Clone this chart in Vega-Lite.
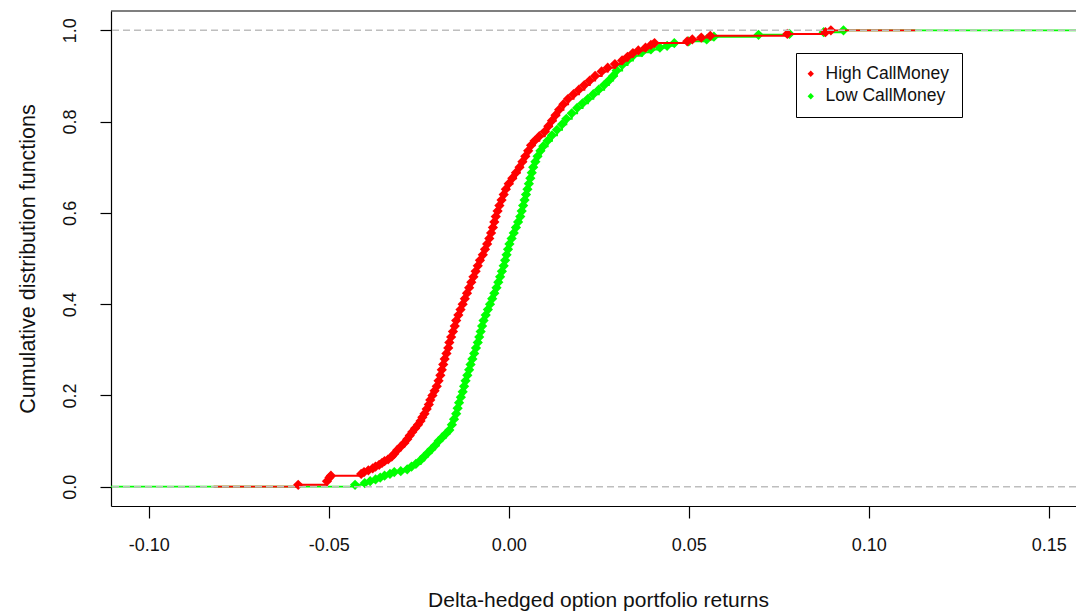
{
  "$schema": "https://vega.github.io/schema/vega-lite/v6.json",
  "width": 965,
  "height": 495,
  "autosize": {"type": "none"},
  "padding": {"left": 111, "top": 11, "right": 0, "bottom": 106},
  "background": "#ffffff",
  "view": {"stroke": null},
  "config": {
    "font": "Liberation Sans",
    "axis": {"grid": false, "domainColor": "#000000", "tickColor": "#000000", "labelColor": "#111111", "titleColor": "#111111", "titleFontWeight": "normal", "labelFont": "Liberation Sans", "titleFont": "Liberation Sans"}
  },
  "datasets": {
    "cdf": [
      {"series": "High CallMoney", "ret": -0.0585, "cdf": 0.004},
      {"series": "High CallMoney", "ret": -0.0505, "cdf": 0.012},
      {"series": "High CallMoney", "ret": -0.0498, "cdf": 0.020},
      {"series": "High CallMoney", "ret": -0.0494, "cdf": 0.024},
      {"series": "High CallMoney", "ret": -0.0410, "cdf": 0.028},
      {"series": "High CallMoney", "ret": -0.0402, "cdf": 0.032},
      {"series": "High CallMoney", "ret": -0.0390, "cdf": 0.036},
      {"series": "High CallMoney", "ret": -0.0378, "cdf": 0.040},
      {"series": "High CallMoney", "ret": -0.0370, "cdf": 0.044},
      {"series": "High CallMoney", "ret": -0.0360, "cdf": 0.048},
      {"series": "High CallMoney", "ret": -0.0352, "cdf": 0.052},
      {"series": "High CallMoney", "ret": -0.0345, "cdf": 0.056},
      {"series": "High CallMoney", "ret": -0.0335, "cdf": 0.060},
      {"series": "High CallMoney", "ret": -0.0325, "cdf": 0.066},
      {"series": "High CallMoney", "ret": -0.0318, "cdf": 0.072},
      {"series": "High CallMoney", "ret": -0.0310, "cdf": 0.080},
      {"series": "High CallMoney", "ret": -0.0300, "cdf": 0.088},
      {"series": "High CallMoney", "ret": -0.0290, "cdf": 0.096},
      {"series": "High CallMoney", "ret": -0.0282, "cdf": 0.104},
      {"series": "High CallMoney", "ret": -0.0275, "cdf": 0.112},
      {"series": "High CallMoney", "ret": -0.0268, "cdf": 0.120},
      {"series": "High CallMoney", "ret": -0.0260, "cdf": 0.128},
      {"series": "High CallMoney", "ret": -0.0252, "cdf": 0.136},
      {"series": "High CallMoney", "ret": -0.0245, "cdf": 0.144},
      {"series": "High CallMoney", "ret": -0.0240, "cdf": 0.152},
      {"series": "High CallMoney", "ret": -0.0234, "cdf": 0.160},
      {"series": "High CallMoney", "ret": -0.0228, "cdf": 0.170},
      {"series": "High CallMoney", "ret": -0.0222, "cdf": 0.180},
      {"series": "High CallMoney", "ret": -0.0218, "cdf": 0.190},
      {"series": "High CallMoney", "ret": -0.0212, "cdf": 0.200},
      {"series": "High CallMoney", "ret": -0.0206, "cdf": 0.210},
      {"series": "High CallMoney", "ret": -0.0200, "cdf": 0.220},
      {"series": "High CallMoney", "ret": -0.0195, "cdf": 0.232},
      {"series": "High CallMoney", "ret": -0.0190, "cdf": 0.244},
      {"series": "High CallMoney", "ret": -0.0186, "cdf": 0.256},
      {"series": "High CallMoney", "ret": -0.0182, "cdf": 0.268},
      {"series": "High CallMoney", "ret": -0.0178, "cdf": 0.280},
      {"series": "High CallMoney", "ret": -0.0173, "cdf": 0.292},
      {"series": "High CallMoney", "ret": -0.0168, "cdf": 0.304},
      {"series": "High CallMoney", "ret": -0.0165, "cdf": 0.316},
      {"series": "High CallMoney", "ret": -0.0160, "cdf": 0.328},
      {"series": "High CallMoney", "ret": -0.0155, "cdf": 0.340},
      {"series": "High CallMoney", "ret": -0.0150, "cdf": 0.352},
      {"series": "High CallMoney", "ret": -0.0146, "cdf": 0.364},
      {"series": "High CallMoney", "ret": -0.0140, "cdf": 0.376},
      {"series": "High CallMoney", "ret": -0.0134, "cdf": 0.388},
      {"series": "High CallMoney", "ret": -0.0128, "cdf": 0.400},
      {"series": "High CallMoney", "ret": -0.0122, "cdf": 0.412},
      {"series": "High CallMoney", "ret": -0.0116, "cdf": 0.424},
      {"series": "High CallMoney", "ret": -0.0110, "cdf": 0.436},
      {"series": "High CallMoney", "ret": -0.0104, "cdf": 0.448},
      {"series": "High CallMoney", "ret": -0.0098, "cdf": 0.460},
      {"series": "High CallMoney", "ret": -0.0092, "cdf": 0.472},
      {"series": "High CallMoney", "ret": -0.0086, "cdf": 0.484},
      {"series": "High CallMoney", "ret": -0.0080, "cdf": 0.496},
      {"series": "High CallMoney", "ret": -0.0072, "cdf": 0.508},
      {"series": "High CallMoney", "ret": -0.0066, "cdf": 0.520},
      {"series": "High CallMoney", "ret": -0.0060, "cdf": 0.532},
      {"series": "High CallMoney", "ret": -0.0054, "cdf": 0.544},
      {"series": "High CallMoney", "ret": -0.0049, "cdf": 0.556},
      {"series": "High CallMoney", "ret": -0.0044, "cdf": 0.568},
      {"series": "High CallMoney", "ret": -0.0040, "cdf": 0.580},
      {"series": "High CallMoney", "ret": -0.0036, "cdf": 0.592},
      {"series": "High CallMoney", "ret": -0.0031, "cdf": 0.604},
      {"series": "High CallMoney", "ret": -0.0026, "cdf": 0.616},
      {"series": "High CallMoney", "ret": -0.0020, "cdf": 0.628},
      {"series": "High CallMoney", "ret": -0.0014, "cdf": 0.640},
      {"series": "High CallMoney", "ret": -0.0008, "cdf": 0.652},
      {"series": "High CallMoney", "ret": 0.0000, "cdf": 0.664},
      {"series": "High CallMoney", "ret": 0.0010, "cdf": 0.676},
      {"series": "High CallMoney", "ret": 0.0020, "cdf": 0.688},
      {"series": "High CallMoney", "ret": 0.0030, "cdf": 0.700},
      {"series": "High CallMoney", "ret": 0.0038, "cdf": 0.712},
      {"series": "High CallMoney", "ret": 0.0046, "cdf": 0.724},
      {"series": "High CallMoney", "ret": 0.0054, "cdf": 0.736},
      {"series": "High CallMoney", "ret": 0.0062, "cdf": 0.748},
      {"series": "High CallMoney", "ret": 0.0072, "cdf": 0.758},
      {"series": "High CallMoney", "ret": 0.0085, "cdf": 0.768},
      {"series": "High CallMoney", "ret": 0.0100, "cdf": 0.778},
      {"series": "High CallMoney", "ret": 0.0110, "cdf": 0.790},
      {"series": "High CallMoney", "ret": 0.0120, "cdf": 0.802},
      {"series": "High CallMoney", "ret": 0.0130, "cdf": 0.814},
      {"series": "High CallMoney", "ret": 0.0140, "cdf": 0.826},
      {"series": "High CallMoney", "ret": 0.0152, "cdf": 0.838},
      {"series": "High CallMoney", "ret": 0.0165, "cdf": 0.850},
      {"series": "High CallMoney", "ret": 0.0180, "cdf": 0.860},
      {"series": "High CallMoney", "ret": 0.0195, "cdf": 0.870},
      {"series": "High CallMoney", "ret": 0.0210, "cdf": 0.880},
      {"series": "High CallMoney", "ret": 0.0225, "cdf": 0.890},
      {"series": "High CallMoney", "ret": 0.0240, "cdf": 0.900},
      {"series": "High CallMoney", "ret": 0.0258, "cdf": 0.910},
      {"series": "High CallMoney", "ret": 0.0275, "cdf": 0.918},
      {"series": "High CallMoney", "ret": 0.0295, "cdf": 0.926},
      {"series": "High CallMoney", "ret": 0.0315, "cdf": 0.934},
      {"series": "High CallMoney", "ret": 0.0330, "cdf": 0.942},
      {"series": "High CallMoney", "ret": 0.0345, "cdf": 0.950},
      {"series": "High CallMoney", "ret": 0.0360, "cdf": 0.956},
      {"series": "High CallMoney", "ret": 0.0380, "cdf": 0.962},
      {"series": "High CallMoney", "ret": 0.0395, "cdf": 0.968},
      {"series": "High CallMoney", "ret": 0.0405, "cdf": 0.972},
      {"series": "High CallMoney", "ret": 0.0496, "cdf": 0.976},
      {"series": "High CallMoney", "ret": 0.0510, "cdf": 0.980},
      {"series": "High CallMoney", "ret": 0.0535, "cdf": 0.984},
      {"series": "High CallMoney", "ret": 0.0560, "cdf": 0.988},
      {"series": "High CallMoney", "ret": 0.0774, "cdf": 0.992},
      {"series": "High CallMoney", "ret": 0.0880, "cdf": 0.996},
      {"series": "High CallMoney", "ret": 0.0895, "cdf": 1.000},
      {"series": "Low CallMoney", "ret": -0.0427, "cdf": 0.004},
      {"series": "Low CallMoney", "ret": -0.0400, "cdf": 0.008},
      {"series": "Low CallMoney", "ret": -0.0385, "cdf": 0.012},
      {"series": "Low CallMoney", "ret": -0.0370, "cdf": 0.016},
      {"series": "Low CallMoney", "ret": -0.0357, "cdf": 0.020},
      {"series": "Low CallMoney", "ret": -0.0345, "cdf": 0.024},
      {"series": "Low CallMoney", "ret": -0.0330, "cdf": 0.028},
      {"series": "Low CallMoney", "ret": -0.0318, "cdf": 0.032},
      {"series": "Low CallMoney", "ret": -0.0300, "cdf": 0.034},
      {"series": "Low CallMoney", "ret": -0.0282, "cdf": 0.038},
      {"series": "Low CallMoney", "ret": -0.0270, "cdf": 0.044},
      {"series": "Low CallMoney", "ret": -0.0258, "cdf": 0.050},
      {"series": "Low CallMoney", "ret": -0.0245, "cdf": 0.058},
      {"series": "Low CallMoney", "ret": -0.0235, "cdf": 0.066},
      {"series": "Low CallMoney", "ret": -0.0225, "cdf": 0.074},
      {"series": "Low CallMoney", "ret": -0.0215, "cdf": 0.082},
      {"series": "Low CallMoney", "ret": -0.0205, "cdf": 0.090},
      {"series": "Low CallMoney", "ret": -0.0195, "cdf": 0.100},
      {"series": "Low CallMoney", "ret": -0.0185, "cdf": 0.108},
      {"series": "Low CallMoney", "ret": -0.0175, "cdf": 0.116},
      {"series": "Low CallMoney", "ret": -0.0165, "cdf": 0.124},
      {"series": "Low CallMoney", "ret": -0.0158, "cdf": 0.136},
      {"series": "Low CallMoney", "ret": -0.0152, "cdf": 0.148},
      {"series": "Low CallMoney", "ret": -0.0146, "cdf": 0.160},
      {"series": "Low CallMoney", "ret": -0.0142, "cdf": 0.172},
      {"series": "Low CallMoney", "ret": -0.0138, "cdf": 0.184},
      {"series": "Low CallMoney", "ret": -0.0133, "cdf": 0.196},
      {"series": "Low CallMoney", "ret": -0.0128, "cdf": 0.208},
      {"series": "Low CallMoney", "ret": -0.0124, "cdf": 0.220},
      {"series": "Low CallMoney", "ret": -0.0120, "cdf": 0.232},
      {"series": "Low CallMoney", "ret": -0.0115, "cdf": 0.244},
      {"series": "Low CallMoney", "ret": -0.0110, "cdf": 0.256},
      {"series": "Low CallMoney", "ret": -0.0106, "cdf": 0.268},
      {"series": "Low CallMoney", "ret": -0.0101, "cdf": 0.280},
      {"series": "Low CallMoney", "ret": -0.0096, "cdf": 0.292},
      {"series": "Low CallMoney", "ret": -0.0091, "cdf": 0.304},
      {"series": "Low CallMoney", "ret": -0.0086, "cdf": 0.316},
      {"series": "Low CallMoney", "ret": -0.0082, "cdf": 0.328},
      {"series": "Low CallMoney", "ret": -0.0078, "cdf": 0.340},
      {"series": "Low CallMoney", "ret": -0.0074, "cdf": 0.352},
      {"series": "Low CallMoney", "ret": -0.0070, "cdf": 0.364},
      {"series": "Low CallMoney", "ret": -0.0064, "cdf": 0.376},
      {"series": "Low CallMoney", "ret": -0.0058, "cdf": 0.388},
      {"series": "Low CallMoney", "ret": -0.0052, "cdf": 0.400},
      {"series": "Low CallMoney", "ret": -0.0046, "cdf": 0.412},
      {"series": "Low CallMoney", "ret": -0.0040, "cdf": 0.424},
      {"series": "Low CallMoney", "ret": -0.0034, "cdf": 0.436},
      {"series": "Low CallMoney", "ret": -0.0029, "cdf": 0.448},
      {"series": "Low CallMoney", "ret": -0.0024, "cdf": 0.460},
      {"series": "Low CallMoney", "ret": -0.0019, "cdf": 0.472},
      {"series": "Low CallMoney", "ret": -0.0014, "cdf": 0.484},
      {"series": "Low CallMoney", "ret": -0.0010, "cdf": 0.496},
      {"series": "Low CallMoney", "ret": -0.0006, "cdf": 0.508},
      {"series": "Low CallMoney", "ret": -0.0002, "cdf": 0.520},
      {"series": "Low CallMoney", "ret": 0.0002, "cdf": 0.532},
      {"series": "Low CallMoney", "ret": 0.0008, "cdf": 0.544},
      {"series": "Low CallMoney", "ret": 0.0014, "cdf": 0.556},
      {"series": "Low CallMoney", "ret": 0.0020, "cdf": 0.568},
      {"series": "Low CallMoney", "ret": 0.0026, "cdf": 0.580},
      {"series": "Low CallMoney", "ret": 0.0032, "cdf": 0.592},
      {"series": "Low CallMoney", "ret": 0.0036, "cdf": 0.604},
      {"series": "Low CallMoney", "ret": 0.0040, "cdf": 0.616},
      {"series": "Low CallMoney", "ret": 0.0044, "cdf": 0.628},
      {"series": "Low CallMoney", "ret": 0.0048, "cdf": 0.640},
      {"series": "Low CallMoney", "ret": 0.0052, "cdf": 0.652},
      {"series": "Low CallMoney", "ret": 0.0056, "cdf": 0.664},
      {"series": "Low CallMoney", "ret": 0.0060, "cdf": 0.676},
      {"series": "Low CallMoney", "ret": 0.0064, "cdf": 0.688},
      {"series": "Low CallMoney", "ret": 0.0068, "cdf": 0.700},
      {"series": "Low CallMoney", "ret": 0.0074, "cdf": 0.712},
      {"series": "Low CallMoney", "ret": 0.0080, "cdf": 0.724},
      {"series": "Low CallMoney", "ret": 0.0088, "cdf": 0.736},
      {"series": "Low CallMoney", "ret": 0.0096, "cdf": 0.746},
      {"series": "Low CallMoney", "ret": 0.0108, "cdf": 0.758},
      {"series": "Low CallMoney", "ret": 0.0120, "cdf": 0.770},
      {"series": "Low CallMoney", "ret": 0.0134, "cdf": 0.782},
      {"series": "Low CallMoney", "ret": 0.0148, "cdf": 0.794},
      {"series": "Low CallMoney", "ret": 0.0160, "cdf": 0.806},
      {"series": "Low CallMoney", "ret": 0.0175, "cdf": 0.818},
      {"series": "Low CallMoney", "ret": 0.0190, "cdf": 0.830},
      {"series": "Low CallMoney", "ret": 0.0205, "cdf": 0.840},
      {"series": "Low CallMoney", "ret": 0.0220, "cdf": 0.850},
      {"series": "Low CallMoney", "ret": 0.0235, "cdf": 0.860},
      {"series": "Low CallMoney", "ret": 0.0250, "cdf": 0.870},
      {"series": "Low CallMoney", "ret": 0.0265, "cdf": 0.880},
      {"series": "Low CallMoney", "ret": 0.0278, "cdf": 0.890},
      {"series": "Low CallMoney", "ret": 0.0290, "cdf": 0.900},
      {"series": "Low CallMoney", "ret": 0.0300, "cdf": 0.912},
      {"series": "Low CallMoney", "ret": 0.0315, "cdf": 0.924},
      {"series": "Low CallMoney", "ret": 0.0330, "cdf": 0.934},
      {"series": "Low CallMoney", "ret": 0.0345, "cdf": 0.944},
      {"series": "Low CallMoney", "ret": 0.0370, "cdf": 0.952},
      {"series": "Low CallMoney", "ret": 0.0395, "cdf": 0.958},
      {"series": "Low CallMoney", "ret": 0.0420, "cdf": 0.962},
      {"series": "Low CallMoney", "ret": 0.0440, "cdf": 0.966},
      {"series": "Low CallMoney", "ret": 0.0460, "cdf": 0.972},
      {"series": "Low CallMoney", "ret": 0.0500, "cdf": 0.976},
      {"series": "Low CallMoney", "ret": 0.0550, "cdf": 0.980},
      {"series": "Low CallMoney", "ret": 0.0570, "cdf": 0.986},
      {"series": "Low CallMoney", "ret": 0.0694, "cdf": 0.990},
      {"series": "Low CallMoney", "ret": 0.0780, "cdf": 0.992},
      {"series": "Low CallMoney", "ret": 0.0875, "cdf": 0.996},
      {"series": "Low CallMoney", "ret": 0.0930, "cdf": 1.000}
    ],
    "ext": [
      {"series": "Low CallMoney", "from": -0.1105, "to": -0.0427, "level": 0},
      {"series": "Low CallMoney", "from": 0.0930, "to": 0.1576, "level": 1},
      {"series": "High CallMoney", "from": -0.0820, "to": -0.0585, "level": 0},
      {"series": "High CallMoney", "from": 0.0895, "to": 0.1130, "level": 1}
    ],
    "refs": [{"level": 0}, {"level": 1}],
    "frame": [{"level": 1.0423}]
  },
  "layer": [
    {
      "data": {"name": "ext"},
      "transform": [{"filter": "datum.series === 'Low CallMoney'"}],
      "mark": {"type": "rule", "color": "#00FF00", "strokeWidth": 1.8, "clip": true},
      "encoding": {
        "x": {"field": "from", "type": "quantitative", "scale": {"domain": [-0.1105, 0.1576], "nice": false, "zero": false},
          "axis": {"values": [-0.1, -0.05, 0, 0.05, 0.1, 0.15], "format": ".2f", "labelExpr": "replace(datum.label, '\u2212', '-')", "domainWidth": 1.2, "tickWidth": 1.2, "tickSize": 12, "labelFontSize": 18, "labelPadding": 18, "labelFlush": false, "labelOverlap": false,
            "title": "Delta-hedged option portfolio returns", "titleFontSize": 21, "titleBaseline": "middle", "titleY": 94, "titleX": 487}},
        "x2": {"field": "to"},
        "y": {"field": "level", "type": "quantitative", "scale": {"domain": [-0.0423, 1.0423], "nice": false, "zero": false},
          "axis": {"values": [0, 0.2, 0.4, 0.6, 0.8, 1.0], "format": ".1f", "labelAngle": 270, "labelAlign": "center", "labelBaseline": "bottom", "domainWidth": 1.2, "tickWidth": 1.2, "tickSize": 11, "labelFontSize": 18, "labelPadding": 21,
            "title": "Cumulative distribution functions", "titleFontSize": 21.5, "titleAngle": 270, "titleBaseline": "middle", "titleX": -83}}
      }
    },
    {
      "data": {"name": "cdf"},
      "transform": [{"filter": "datum.series === 'Low CallMoney'"}],
      "mark": {"type": "line", "color": "#00FF00", "strokeWidth": 2, "interpolate": "step-after", "clip": true},
      "encoding": {
        "x": {"field": "ret", "type": "quantitative"},
        "y": {"field": "cdf", "type": "quantitative"}
      }
    },
    {
      "data": {"name": "cdf"},
      "transform": [{"filter": "datum.series === 'Low CallMoney'"}],
      "mark": {"type": "point", "shape": "diamond", "filled": true, "size": 105, "opacity": 1},
      "encoding": {
        "x": {"field": "ret", "type": "quantitative"},
        "y": {"field": "cdf", "type": "quantitative"},
        "color": {"field": "series", "type": "nominal",
          "scale": {"domain": ["High CallMoney", "Low CallMoney"], "range": ["#FF0000", "#00FF00"]},
          "legend": {"orient": "none", "legendX": 685, "legendY": 42, "title": null, "strokeColor": "#000000", "fillColor": "#ffffff", "padding": 12, "symbolType": "diamond", "symbolSize": 40, "symbolStrokeWidth": 0, "symbolOffset": -6, "labelFontSize": 17.5, "labelColor": "#111111", "labelFont": "Liberation Sans", "labelOffset": 6, "rowPadding": 3.5}}
      }
    },
    {
      "data": {"name": "ext"},
      "transform": [{"filter": "datum.series === 'High CallMoney'"}],
      "mark": {"type": "rule", "color": "#FF0000", "strokeWidth": 1.8, "clip": true},
      "encoding": {
        "x": {"field": "from", "type": "quantitative"},
        "x2": {"field": "to"},
        "y": {"field": "level", "type": "quantitative"}
      }
    },
    {
      "data": {"name": "cdf"},
      "transform": [{"filter": "datum.series === 'High CallMoney'"}],
      "mark": {"type": "line", "color": "#FF0000", "strokeWidth": 2, "interpolate": "step-after", "clip": true},
      "encoding": {
        "x": {"field": "ret", "type": "quantitative"},
        "y": {"field": "cdf", "type": "quantitative"}
      }
    },
    {
      "data": {"name": "cdf"},
      "transform": [{"filter": "datum.series === 'High CallMoney'"}],
      "mark": {"type": "point", "shape": "diamond", "filled": true, "size": 105, "opacity": 1},
      "encoding": {
        "x": {"field": "ret", "type": "quantitative"},
        "y": {"field": "cdf", "type": "quantitative"},
        "color": {"field": "series", "type": "nominal"}
      }
    },
    {
      "data": {"name": "refs"},
      "mark": {"type": "rule", "color": "#BEBEBE", "strokeWidth": 1.6, "strokeDash": [7, 4]},
      "encoding": {
        "y": {"field": "level", "type": "quantitative"}
      }
    },
    {
      "data": {"name": "frame"},
      "mark": {"type": "rule", "color": "#000000", "strokeWidth": 1.2},
      "encoding": {
        "y": {"field": "level", "type": "quantitative"}
      }
    }
  ]
}
